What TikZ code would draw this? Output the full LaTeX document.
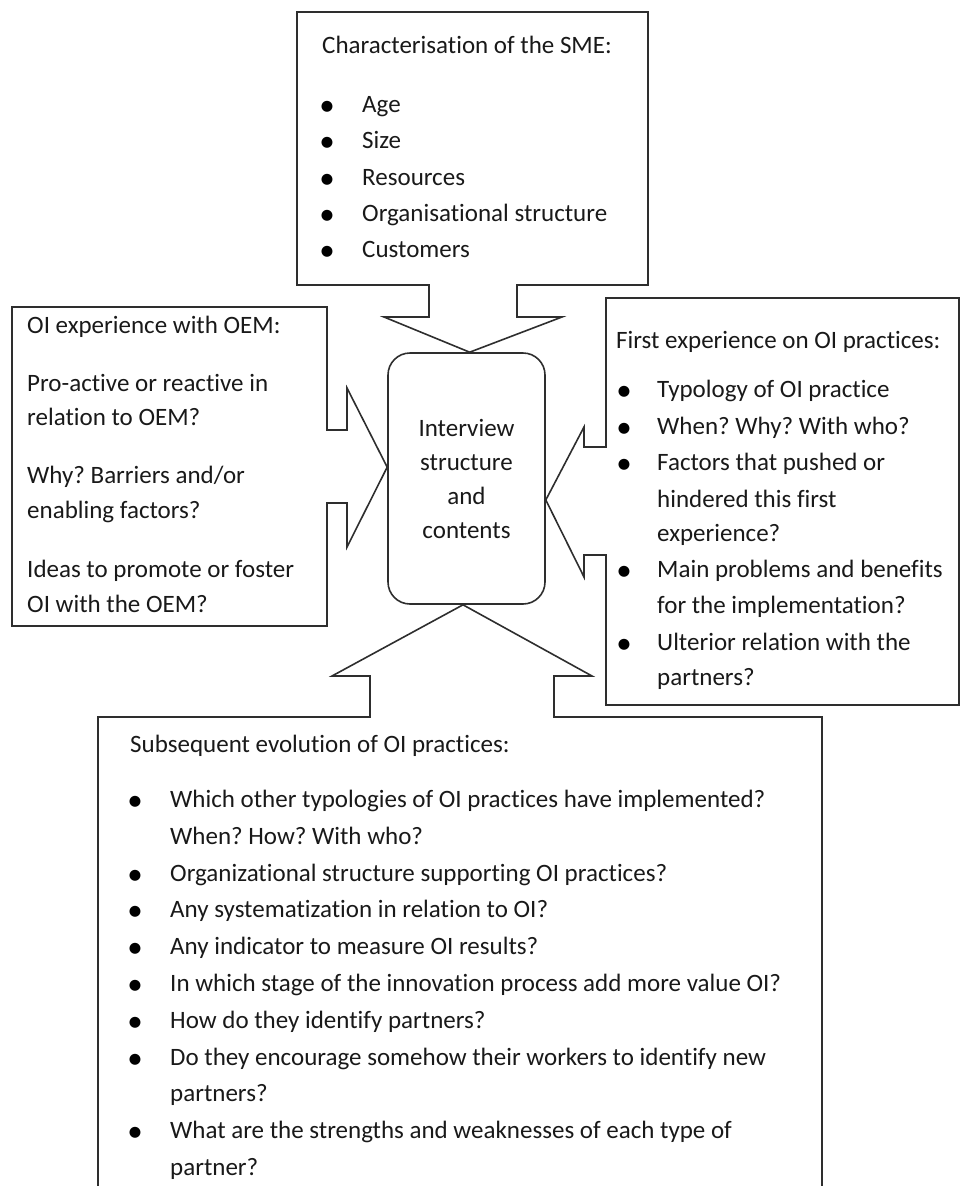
\documentclass[tikz,border=0pt]{standalone}
\usepackage{fontspec}
\setmainfont{Carlito}[Ligatures=NoCommon]
\usetikzlibrary{calc}
\frenchspacing
\begin{document}
\begin{tikzpicture}[x=1pt,y=-1pt,
  callout/.style={draw=black!82, line width=1.6pt, line join=miter},
  txtline/.style={anchor=base west, inner sep=0pt, font=\fontsize{25}{30}\selectfont, text=black!90},
  bulletmark/.style={anchor=base, inner sep=0pt, yshift=-3pt, font=\fontsize{31}{30}\selectfont, text=black},
  hub/.style={draw=black!82, line width=1.6pt, rounded corners=22pt, minimum width=157pt,
    minimum height=251pt, align=center, inner sep=0pt, font=\fontsize{25}{34}\selectfont, text=black!90}
]
\useasboundingbox (0,0) rectangle (961,1186);
\clip (0,0) rectangle (961,1186);

% central rounded box
\node[hub] (core) at (466.5,478.5) {Interview\\structure\\and\\contents};

% points where the four callout arrows touch the central box
\coordinate (tipT) at ($(core.north west)!0.52!(core.north east)$);
\coordinate (tipL) at ($(core.north west)!0.455!(core.south west)$);
\coordinate (tipR) at ($(core.north east)!0.585!(core.south east)$);
\coordinate (tipB) at ($(core.south west)!0.478!(core.south east)$);

% top callout
\draw[callout] (297,12) -- (648,12) -- (648,285) -- (517,285) -- (517,317) -- (562,317)
  -- (tipT) -- (384,317) -- (429,317) -- (429,285) -- (297,285) -- cycle;
% left callout
\draw[callout] (12,307) -- (327,307) -- (327,430) -- (347,430) -- (347,388)
  -- (tipL) -- (347,547) -- (347,503) -- (327,503) -- (327,626) -- (12,626) -- cycle;
% right callout
\draw[callout] (606,298) -- (959,298) -- (959,705) -- (606,705) -- (606,555) -- (584,555)
  -- (584,577) -- (tipR) -- (584,427) -- (584,447) -- (606,447) -- cycle;
% bottom callout
\draw[callout] (98,1200) -- (98,717) -- (370,717) -- (370,676) -- (332,676)
  -- (tipB) -- (592,676) -- (554,676) -- (554,717) -- (822,717) -- (822,1200);

% top callout text
\node[txtline] (sme-h) at (322,53) {Characterisation of the SME:};
\foreach \y/\t [count=\i] in {112/Age,148/Size,185/Resources,221/Organisational structure,257/Customers}{
  \node[bulletmark] (sme-b\i) at (327,\y) {\textbullet};
  \node[txtline] (sme-\i) at (362,\y) {\t};
}

% left callout text
\node[txtline] (oem-h) at (27,333) {OI experience with OEM:};
\foreach \y/\t [count=\i] in {391/{Pro-active or reactive in},425/{relation to OEM?},
  483/{Why? Barriers and/or},518/{enabling factors?},577/{Ideas to promote or foster},612/{OI with the OEM?}}{
  \node[txtline] (oem-\i) at (27,\y) {\t};
}

% right callout text
\node[txtline] (first-h) at (616,348) {First experience on OI practices:};
\foreach \y/\b/\t [count=\i] in {397/1/{Typology of OI practice},434/1/{When? Why? With who?},
  470/1/{Factors that pushed or},507/0/{hindered this first},541/0/{experience?},
  577/1/{Main problems and benefits},613/0/{for the implementation?},
  650/1/{Ulterior relation with the},685/0/{partners?}}{
  \ifnum\b=1 \node[bulletmark] (first-b\i) at (624,\y) {\textbullet};\fi
  \node[txtline] (first-\i) at (657,\y) {\t};
}

% bottom callout text
\node[txtline] (evo-h) at (130,752) {Subsequent evolution of OI practices:};
\foreach \y/\b/\t [count=\i] in {807/1/{Which other typologies of OI practices have implemented?},
  844/0/{When? How? With who?},881/1/{Organizational structure supporting OI practices?},
  917/1/{Any systematization in relation to OI?},954/1/{Any indicator to measure OI results?},
  991/1/{In which stage of the innovation process add more value OI?},
  1028/1/{How do they identify partners?},
  1065/1/{Do they encourage somehow their workers to identify new},1101/0/{partners?},
  1138/1/{What are the strengths and weaknesses of each type of},1175/0/{partner?}}{
  \ifnum\b=1 \node[bulletmark] (evo-b\i) at (135,\y) {\textbullet};\fi
  \node[txtline] (evo-\i) at (170,\y) {\t};
}
\end{tikzpicture}
\end{document}
